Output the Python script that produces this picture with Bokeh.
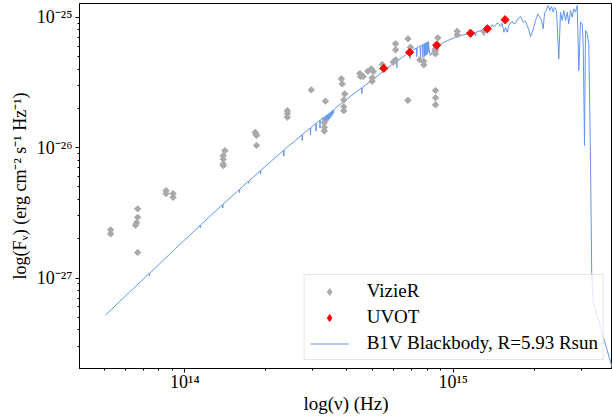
import numpy as np
from bokeh.plotting import figure
from bokeh.models import (FixedTicker, CustomJSTickFormatter, Legend, LegendItem, Range1d)
from bokeh.embed import file_html
from bokeh.resources import INLINE

# ---------------- data ----------------
VIZIER_NU = [5.29e13, 5.29e13, 6.67e13, 6.67e13, 6.61e13, 6.55e13, 6.67e13,
             8.51e13, 8.51e13, 9.04e13, 9.04e13,
             1.39e14, 1.39e14, 1.39e14, 1.39e14, 1.41e14,
             1.83e14, 1.84e14, 1.85e14, 1.85e14,
             2.41e14, 2.41e14, 2.41e14, 2.96e14,
             3.34e14, 3.31e14, 3.31e14, 3.31e14,
             3.83e14, 3.86e14, 3.94e14, 3.91e14, 3.91e14, 3.91e14,
             4.49e14, 4.51e14, 4.62e14, 4.81e14, 4.95e14, 5.04e14, 4.99e14, 4.99e14,
             5.44e14, 5.98e14, 6.10e14, 6.10e14, 6.10e14,
             6.78e14, 6.93e14, 6.78e14, 7.51e14, 7.77e14, 7.77e14,
             8.76e14, 8.59e14, 8.59e14, 8.59e14, 8.59e14, 8.59e14, 8.59e14,
             1.035e15, 1.035e15, 1.30e15]
VIZIER_F = [2.34e-27, 2.18e-27, 3.39e-27, 2.92e-27, 2.66e-27, 2.54e-27, 1.57e-27,
            4.68e-27, 4.44e-27, 4.44e-27, 4.16e-27,
            8.68e-27, 8.16e-27, 7.50e-27, 7.28e-27, 9.48e-27,
            1.31e-26, 1.27e-26, 1.24e-26, 1.04e-26,
            1.92e-26, 1.82e-26, 1.71e-26, 2.77e-26,
            2.27e-26, 1.56e-26, 1.43e-26, 1.34e-26,
            3.37e-26, 3.08e-26, 2.58e-26, 2.32e-26, 2.06e-26, 1.92e-26,
            3.70e-26, 3.51e-26, 3.51e-26, 3.85e-26, 4.02e-26, 3.83e-26, 3.43e-26, 3.23e-26,
            4.34e-26, 4.52e-26, 4.71e-26, 6.25e-26, 5.62e-26,
            6.83e-26, 5.89e-26, 2.30e-26, 4.71e-26, 4.59e-26, 4.31e-26,
            6.95e-26, 5.72e-26, 5.55e-26, 5.24e-26, 2.74e-26, 2.41e-26, 2.13e-26,
            7.81e-26, 7.33e-26, 7.81e-26]

UVOT_NU = [5.51e14, 6.88e14, 8.68e14, 1.16e15, 1.34e15, 1.56e15]
UVOT_F = [4.05e-26, 5.38e-26, 6.10e-26, 7.54e-26, 8.15e-26, 9.57e-26]

# B1V model spectrum, log10(nu [Hz]) and log10(F_nu)
MODEL_LOG_NU = [
    13.7045, 13.8040, 13.8670, 13.8685, 13.8700, 13.9653,
    14.0566, 14.0578, 14.0589, 14.1401, 14.1412, 14.1423,
    14.2027, 14.2038, 14.2049, 14.2373, 14.2381, 14.2388,
    14.2809, 14.2820, 14.2832, 14.3677, 14.3689, 14.3700,
    14.4363, 14.4374, 14.4385, 14.4672, 14.4683, 14.4695,
    14.4877, 14.4888, 14.4899, 14.5026, 14.5037, 14.5048,
    14.5130, 14.5149, 14.5175, 14.5194, 14.5224, 14.5242, 14.5272, 14.5291,
    14.5320, 14.5339, 14.5369, 14.5388, 14.5417, 14.5436, 14.5466, 14.5484,
    14.5514, 14.5533, 14.5563,
    14.5987, 14.6587, 14.6598, 14.6610, 14.7042, 14.7414,
    14.7891, 14.7902, 14.7914, 14.8383, 14.8394, 14.8405,
    14.8629, 14.8640, 14.8655, 14.8767, 14.8782, 14.8797,
    14.8856, 14.8871, 14.8886, 14.8920, 14.8931, 14.8946,
    14.8964, 14.8975, 14.8990, 14.9009, 14.9020, 14.9035,
    14.9054, 14.9065, 14.9080,
    14.9098, 14.9147, 14.9210, 14.9266, 14.9341, 14.9650, 15.0086, 15.0347, 15.0645,
    15.0812, 15.0831, 15.0861, 15.1110, 15.1140, 15.1177,
    15.1267, 15.1353, 15.1390, 15.1453, 15.1502, 15.1576, 15.1632, 15.1699,
    15.1762, 15.1826, 15.1885, 15.1949, 15.2012, 15.2072, 15.2198, 15.2247,
    15.2321, 15.2407, 15.2508, 15.2608, 15.2694, 15.2757, 15.2817, 15.2880,
    15.2943, 15.3003, 15.3066, 15.3152, 15.3227, 15.3290, 15.3353, 15.3402,
    15.3476, 15.3540, 15.3599, 15.3662, 15.3726, 15.3774, 15.3849, 15.3934,
    15.3998, 15.4061, 15.4121, 15.4184, 15.4247, 15.4307, 15.4370, 15.4434,
    15.4493, 15.4557, 15.4620, 15.4680, 15.4743, 15.4806, 15.4843, 15.4892,
    15.4929, 15.4993, 15.5052, 15.5115, 15.5160, 15.5216, 15.5935, 15.6084]
MODEL_LOG_F = [
    -27.2840, -27.0890, -26.9655, -26.9847, -26.9624, -26.7736,
    -26.5979, -26.6140, -26.5932, -26.4382, -26.4628, -26.4344,
    -26.3223, -26.3454, -26.3177, -26.2579, -26.2732, -26.2563,
    -26.1773, -26.2034, -26.1734, -26.0215, -26.0652, -26.0169,
    -25.9025, -25.9463, -25.8987, -25.8496, -25.9041, -25.8465,
    -25.8150, -25.8734, -25.8120, -25.7905, -25.8504, -25.7874,
    -25.7736, -25.8235, -25.7667, -25.8158, -25.7590, -25.8081, -25.7513, -25.8005,
    -25.7437, -25.7928, -25.7360, -25.7813, -25.7283, -25.7698, -25.7206, -25.7544,
    -25.7130, -25.7391, -25.7053,
    -25.6355, -25.5426, -25.5856, -25.5395, -25.4728, -25.4114,
    -25.3377, -25.3860, -25.3346, -25.2671, -25.3170, -25.2640,
    -25.2364, -25.3016, -25.2325, -25.2210, -25.3093, -25.2172,
    -25.2118, -25.3093, -25.2080, -25.2041, -25.3016, -25.2011,
    -25.1988, -25.2939, -25.1957, -25.1942, -25.2863, -25.1911,
    -25.1896, -25.2709, -25.1880,
    -25.2402, -25.2939, -25.2709, -25.2441, -25.2287, -25.1919, -25.1535, -25.1366, -25.1213,
    -25.1159, -25.1443, -25.1136, -25.0967, -25.1405, -25.0906,
    -25.0767, -25.0675, -25.0867, -25.0560, -25.0714, -25.0637, -25.0445, -25.0507,
    -25.0714, -25.0460, -25.1151, -25.0767, -25.1151, -25.0637, -25.0307, -25.0484,
    -25.0460, -25.0123, -24.9946, -25.0384, -25.0307, -25.0637, -25.0967, -25.1481,
    -25.1151, -25.0767, -25.0253, -24.9739, -25.0000, -25.0253, -25.0890, -24.9693,
    -24.9432, -24.9102, -24.9486, -24.9179, -24.9616, -24.9233, -24.9486, -25.3193,
    -24.9616, -25.0253, -24.9486, -25.0253, -24.9616, -25.0507, -24.9486, -25.0000,
    -24.9355, -24.9616, -24.9102, -25.4091, -25.0384, -25.0507, -25.2041, -25.9847,
    -25.1021, -25.1274, -25.2041, -26.0998, -26.9570, -27.1873, -27.6938, -27.7959]

X_TICKS = [1e14, 1e15]
Y_TICKS = [1e-27, 1e-26, 1e-25]

# ---------------- figure ----------------
model_nu = 10 ** np.array(MODEL_LOG_NU)
model_f = 10 ** np.array(MODEL_LOG_F)

FONT = "Liberation Serif"
GRAY = "#a9a9a9"
RED = "#ff0000"
BLUE = "#6495ED"

p = figure(width=612, height=419, x_axis_type="log", y_axis_type="log",
           x_range=Range1d(4.05e13, 3.922e15), y_range=Range1d(2.023e-28, 1.274e-25),
           output_backend="svg", toolbar_location=None,
           min_border_left=79, min_border_right=0, min_border_top=3, min_border_bottom=51)

line_r = p.line(model_nu, model_f, line_color=BLUE, line_width=1)

# legend proxies: a tiny diamond hidden under the first real marker of each series,
# so that the legend shows a diamond glyph
viz_leg = p.scatter(VIZIER_NU[:1], VIZIER_F[:1], marker="diamond", size=1,
                    fill_color=GRAY, line_color=GRAY)
uvot_leg = p.scatter(UVOT_NU[:1], UVOT_F[:1], marker="diamond", size=1,
                     fill_color=RED, line_color=RED)

p.scatter(VIZIER_NU, VIZIER_F, marker="square", angle=np.pi / 4, size=4.5,
          fill_color=GRAY, line_color=GRAY)
p.scatter(UVOT_NU, UVOT_F, marker="square", angle=np.pi / 4, size=5.8,
          fill_color=RED, line_color=RED)

p.xgrid.visible = False
p.ygrid.visible = False
p.outline_line_color = "black"
p.outline_line_width = 1
p.outline_line_alpha = 1.0
p.background_fill_color = "white"
p.border_fill_color = "white"

fmt = CustomJSTickFormatter(code="""
const e = Math.round(Math.log10(tick));
const sup = {'-':'\u207b','0':'\u2070','1':'\u00b9','2':'\u00b2','3':'\u00b3','4':'\u2074',
             '5':'\u2075','6':'\u2076','7':'\u2077','8':'\u2078','9':'\u2079'};
return '10' + String(e).split('').map(c => sup[c]).join('');
""")

xminor = [k * 10.0 ** e for e in (13, 14, 15) for k in range(2, 10)]
yminor = [k * 10.0 ** e for e in (-28, -27, -26, -25) for k in range(2, 10)]
p.xaxis.ticker = FixedTicker(ticks=X_TICKS, minor_ticks=xminor)
p.yaxis.ticker = FixedTicker(ticks=Y_TICKS, minor_ticks=yminor)

for ax in (p.xaxis[0], p.yaxis[0]):
    ax.formatter = fmt
    ax.major_label_text_font = FONT
    ax.major_label_text_font_size = "18px"
    ax.major_label_text_color = "black"
    ax.axis_label_text_font = FONT
    ax.axis_label_text_font_style = "normal"
    ax.axis_label_text_color = "black"
    ax.axis_line_color = "black"
    ax.major_tick_line_color = "black"
    ax.minor_tick_line_color = "black"
    ax.major_tick_out = 4
    ax.major_tick_in = 0
    ax.minor_tick_out = 2
    ax.minor_tick_in = 0

p.xaxis[0].axis_label_text_font_size = "19px"
p.xaxis[0].major_label_standoff = -1
p.xaxis[0].axis_label_standoff = -2
p.yaxis[0].axis_label_text_font_size = "18px"
p.yaxis[0].major_label_standoff = 3
p.yaxis[0].axis_label_standoff = 4

p.xaxis.axis_label = "log(\u03bd) (Hz)"
p.yaxis.axis_label = "log(F\u1d65) (erg cm\u207b\u00b2 s\u207b\u00b9 Hz\u207b\u00b9)"

legend = Legend(items=[LegendItem(label="VizieR", renderers=[viz_leg]),
                       LegendItem(label="UVOT", renderers=[uvot_leg]),
                       LegendItem(label="B1V Blackbody, R=5.93 Rsun", renderers=[line_r])],
                location="bottom_right",
                label_text_font=FONT, label_text_font_size="19px", label_text_color="black",
                border_line_color="#cccccc", border_line_width=1,
                background_fill_color="white", background_fill_alpha=0.8,
                glyph_width=39, glyph_height=17, label_height=22,
                label_standoff=18, padding=5, spacing=4, margin=8)
p.add_layout(legend)

with open("out.html", "w", encoding="utf-8") as f:
    f.write(file_html(p, INLINE))
